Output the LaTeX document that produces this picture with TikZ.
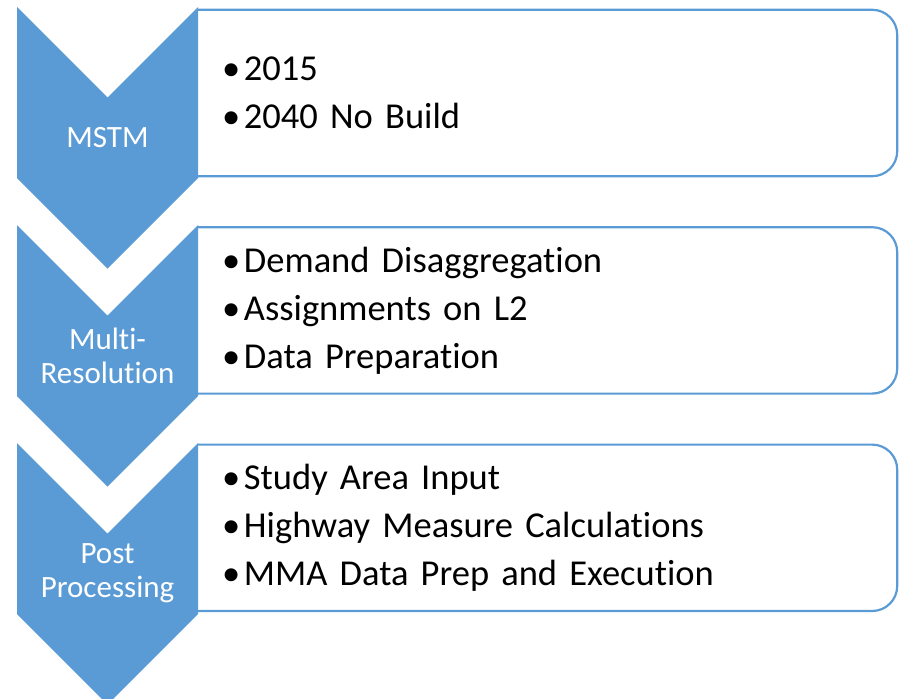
\documentclass[tikz,border=0pt]{standalone}
\usepackage{fontspec}
\setmainfont{Carlito}[Ligatures=NoCommon]
\usetikzlibrary{positioning}
\definecolor{stageblue}{HTML}{5B9BD5}
\tikzstyle{stage}=[fill=stageblue]
\tikzstyle{stagename}=[text=white, align=center, font=\fontsize{31}{34}\selectfont]
\tikzstyle{tasklist}=[minimum width=699pt, minimum height=166pt, inner xsep=24pt,%
	text width=651pt, align=left, font=\fontsize{36.5}{48}\selectfont]
\tikzstyle{taskframe}=[draw=stageblue, line width=2.2pt, rounded corners=25pt]
\newcommand{\task}[1]{\makebox[22pt][l]{\textbullet}#1}

\begin{document}
\begin{tikzpicture}[x=1pt, y=-1pt]
	\useasboundingbox (0,0) rectangle (901,698);
	% task boxes, one under the other
	\node (est) [tasklist] at (547.5,93) {\task{2015}\\\task{2040 No Build}};
	\node (mr) [tasklist, below=51pt of est] {\task{Demand Disaggregation}\\%
		\task{Assignments on L2}\\\task{Data Preparation}};
	\node (pp) [tasklist, below=51pt of mr] {\task{Study Area Input}\\%
		\task{Highway Measure Calculations}\\\task{MMA Data Prep and Execution}};
	% frames, rounded on the right only
	\draw[taskframe] (est.south west) -- (est.south east) -- (est.north east) -- (est.north west);
	\draw[taskframe] (mr.south west) -- (mr.south east) -- (mr.north east) -- (mr.north west);
	\draw[taskframe] (pp.south west) -- (pp.south east) -- (pp.north east) -- (pp.north west);
	% chevrons
	\fill[stage] (17,7) -- (107.5,97.5) -- (198,7) -- (198,178) -- (107.5,268.5) -- (17,178) -- cycle;
	\fill[stage] (17,225) -- (107.5,315.5) -- (198,225) -- (198,396) -- (107.5,486.5) -- (17,396) -- cycle;
	\fill[stage] (17,443) -- (107.5,533.5) -- (198,443) -- (198,614) -- (107.5,704.5) -- (17,614) -- cycle;
	\node (mstm) [stagename] at (107.5,137.5) {MSTM};
	\node (multi) [stagename] at (107.5,355.5) {Multi-\\Resolution};
	\node (post) [stagename] at (107.5,573.5) {Post\\Processing};
\end{tikzpicture}
\end{document}
